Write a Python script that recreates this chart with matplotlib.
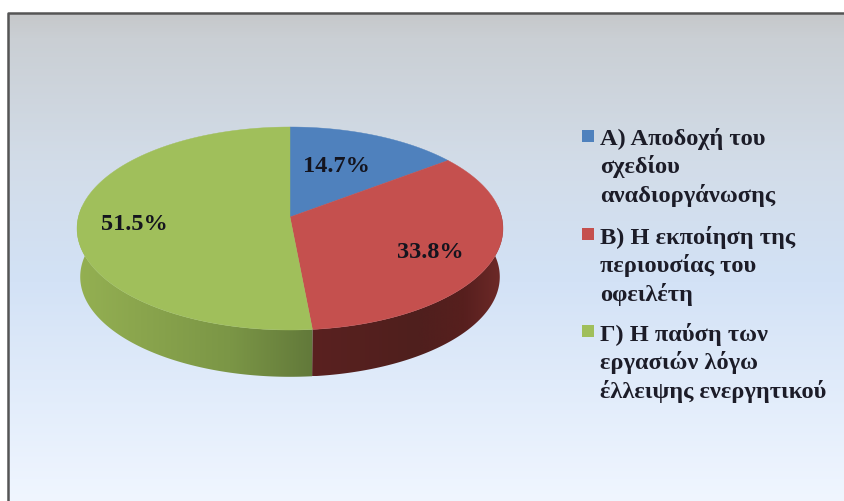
import matplotlib
matplotlib.use("Agg")
import matplotlib.pyplot as plt
import numpy as np
from matplotlib.colors import LinearSegmentedColormap
from matplotlib.patches import Polygon, Rectangle

plt.rcParams['font.family'] = ['Liberation Serif', 'DejaVu Serif']

# data
values = [14.7, 33.8, 51.5]
labels = ["Α) Αποδοχή του\nσχεδίου\nαναδιοργάνωσης",
          "Β) Η εκποίηση της\nπεριουσίας του\nοφειλέτη",
          "Γ) Η παύση των\nεργασιών λόγω\nέλλειψης ενεργητικού"]
colors = ["#4f81bd", "#c5504e", "#a0bf5b"]

# pie geometry, in pixels
cx, cy = 290, 217
a, b, k = 211.6, 100.2, 0.1133
depth, shrink = 48.5, 0.985

label_pos = [(336, 167), (430, 253), (134, 225)]
legend_y = [130, 228, 325]


def project(angle, bottom=False):
    # tilted circle with a little perspective, so the centre sits above the ellipse middle
    u, v = np.cos(angle), np.sin(angle)
    w = 1 + k * v
    x, y = a * u / w, b * v / w
    if bottom:
        return cx + shrink * x, cy + depth - shrink * y
    return cx + x, cy - y


fig = plt.figure(figsize=(8.44, 5.01), dpi=100, facecolor="white")
ax = fig.add_axes([0, 0, 1, 1])

# background
cmap = LinearSegmentedColormap.from_list(
    "bg", [(0, "#c6c8ca"), (0.05, "#cacfd4"), (0.3, "#d2dce8"), (0.55, "#d3e2f6"), (1, "#f0f6ff")])
grad = np.linspace(0, 1, 256).reshape(-1, 1)
ax.imshow(grad, cmap=cmap, extent=(8, 845, 502, 13), aspect="auto", zorder=0)
ax.plot([8, 8, 845], [502, 13, 13], color="#555555", lw=1.8, zorder=1)

# slice angles, clockwise from the top
edges = np.pi / 2 - 2 * np.pi * np.cumsum([0] + values) / sum(values)

# side walls, gradient image clipped to the wall outline
red_side = LinearSegmentedColormap.from_list(
    "red_side", [(0, "#5a2120"), (0.55, "#4f1f1d"), (0.8, "#571f1e"), (1, "#6e2a28")])
green_side = LinearSegmentedColormap.from_list(
    "green_side", [(0, "#94b052"), (0.27, "#8aa54d"), (0.65, "#7b9646"), (1, "#62793a")])
for i, side in [(1, red_side), (2, green_side)]:
    angles = np.linspace(edges[i], edges[i + 1], 300)
    # only the part of the rim that faces the viewer
    angles = angles[np.sin(angles) < 0.12]
    x0, y0 = project(angles)
    x1, y1 = project(angles, bottom=True)
    outline = Polygon(np.c_[np.r_[x0, x1[::-1]], np.r_[y0, y1[::-1]]],
                      transform=ax.transData, fc="none", ec="none")
    ax.add_patch(outline)
    left, right = min(x0.min(), x1.min()), max(x0.max(), x1.max())
    im = ax.imshow(np.linspace(0, 1, 256).reshape(1, -1), cmap=side, aspect="auto",
                   extent=(left, right, y1.max(), y0.min()), zorder=2)
    im.set_clip_path(outline)

ax.set_xlim(0, 844)
ax.set_ylim(501, 0)
ax.axis("off")

# top face
for i, c in enumerate(colors):
    angles = np.linspace(edges[i], edges[i + 1], 200)
    xs, ys = project(angles)
    ax.fill(np.r_[cx, xs], np.r_[cy, ys], color=c, lw=0.3, zorder=3)

# percent labels
for v, (x, y) in zip(values, label_pos):
    ax.text(x, y, f"{v}%", fontsize=17.5, fontweight="bold", color="#14141e",
            ha="center", va="center", zorder=4)

# legend
for lab, c, y in zip(labels, colors, legend_y):
    ax.add_patch(Rectangle((582, y), 12, 12, color=c, lw=0, zorder=4))
    ax.text(600, y - 2, lab, fontsize=17.6, fontweight="bold", color="#1c1c28",
            ha="left", va="top", linespacing=1.3, zorder=4)

fig.savefig("out.png", dpi=100)
